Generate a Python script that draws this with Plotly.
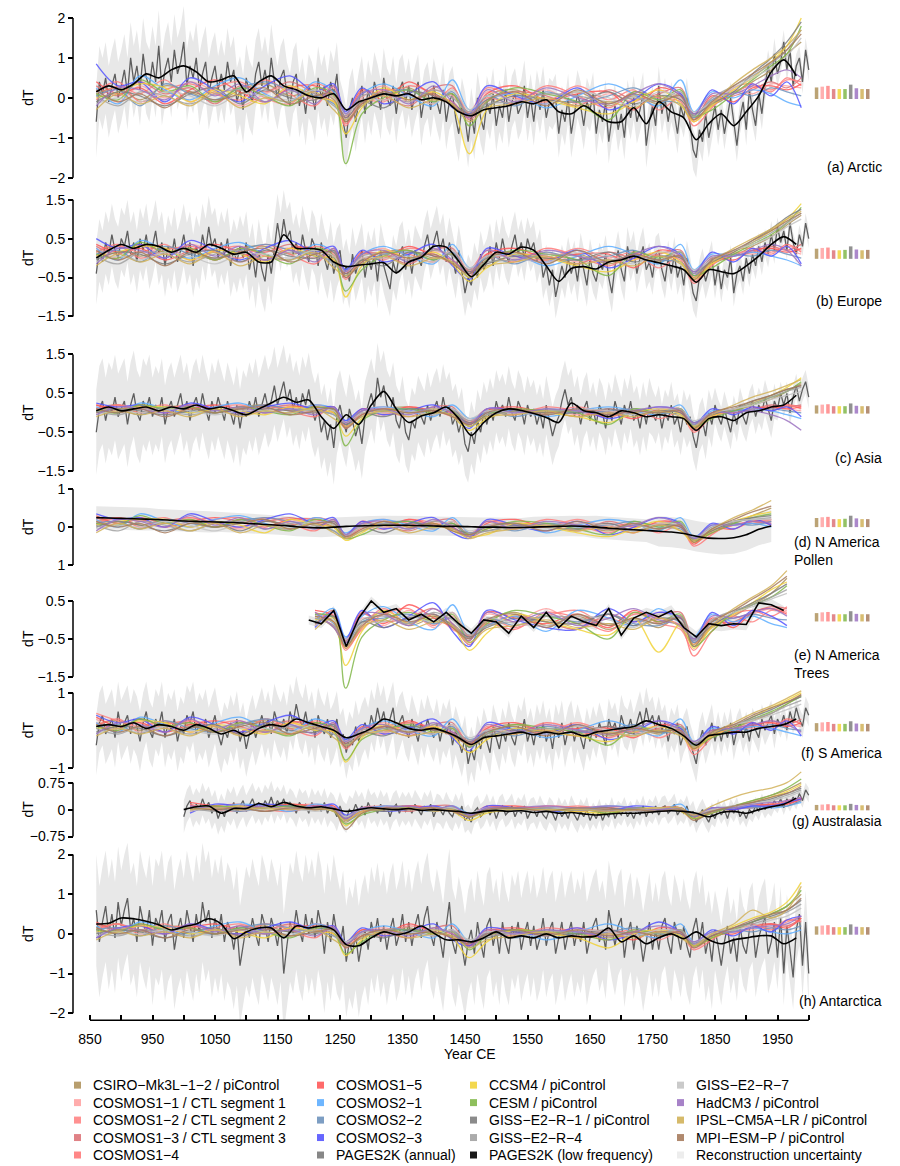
import plotly.graph_objects as go

# ======================= DATA =======================
ANNUAL_YEARS = list(range(860, 2001, 5))    # PAGES2K annual series, shown every 5 yr
LF_YEARS = list(range(860, 2001, 20))       # PAGES2K low-frequency series
MODEL_YEARS = [860, 895, 930, 970, 1010, 1050, 1090, 1130, 1170, 1210, 1240,
               1259, 1285, 1320, 1360, 1400, 1430, 1457, 1485, 1530, 1580, 1630,
               1680, 1720, 1760, 1795, 1816, 1845, 1880, 1910, 1940, 1965, 1988]
UNC_CENTURY_START = 850   # uncertainty half-widths are given per century from 850

MODEL_NAMES = ["CSIRO−Mk3L−1−2 / piControl", "COSMOS1−1 / CTL segment 1",
               "COSMOS1−2 / CTL segment 2", "COSMOS1−3 / CTL segment 3", "COSMOS1−4",
               "COSMOS1−5", "COSMOS2−1", "COSMOS2−2", "COSMOS2−3", "CCSM4 / piControl",
               "CESM / piControl", "GISS−E2−R−1 / piControl", "GISS−E2−R−4", "GISS−E2−R−7",
               "HadCM3 / piControl", "IPSL−CM5A−LR / piControl", "MPI−ESM−P / piControl"]
CONTROL_RUNS = [0, 1, 2, 3, 9, 10, 11, 14, 15, 16]   # models with control-run bars
PANEL_LABELS = ["(a) Arctic", "(b) Europe", "(c) Asia", "(d) N America<br>Pollen",
                "(e) N America<br>Trees", "(f) S America", "(g) Australasia", "(h) Antarctica"]
X_TICKS = list(range(850, 2001, 50))
X_TICK_LABELS = [str(v) if (v - 850) % 100 == 0 and v < 2000 else "" for v in X_TICKS]

N = None
# ---------- (a) Arctic ----------
ARCTIC_ANNUAL = [
    -0.6, 0.4, 0.1, 0.5, -0.1, 0.3, 0.6, 0.0, 0.3, 0.7, 0.1, 1.0, 0.4, 0.8, 0.2, 1.1, 0.5, 0.3, 0.9, 0.4,
    1.3, 0.2, 0.7, 1.0, 0.4, 1.2, 0.6, 0.9, 1.4, 0.3, 0.8, 0.5, 1.0, 0.2, 0.6, 0.9, 0.1, 0.5, 0.8, 0.2,
    0.6, 0.2, 0.9, 0.4, 0.7, -0.1, 0.2, -0.3, 0.5, 0.1, -0.1, 0.6, 0.9, 0.3, 0.7, 0.2, 1.0, 0.4, 0.0, 0.5,
    0.7, 0.1, -0.2, 0.4, 0.6, -0.2, 0.2, -0.4, 0.3, 0.1, -0.3, 0.5, 0.0, 0.3, -0.2, 0.4, 0.1, 0.6, -0.3, -0.6,
    -1.0, -0.3, 0.0, -0.6, -0.1, 0.3, -0.4, 0.2, -0.2, 0.4, 0.1, -0.3, 0.5, 0.0, -0.2, 0.3, -0.4, 0.2, 0.4, -0.1,
    0.3, -0.3, 0.1, 0.4, -0.5, 0.0, 0.2, -0.3, 0.3, -0.1, -0.4, 0.2, -0.6, -0.1, 0.1, -0.5, -0.9, -0.2, -0.5, -1.1,
    -0.4, -0.9, 0.0, -0.5, -0.8, -0.1, -0.4, 0.1, -0.7, -0.2, -0.5, 0.2, -0.6, -0.1, 0.1, -0.4, -0.2, 0.3, -0.5, 0.0,
    -0.6, 0.1, -0.3, 0.2, -0.5, -0.1, -0.2, 0.0, -0.9, -0.3, -0.6, 0.0, -0.9, -0.4, 0.1, -0.2, -0.7, -0.1, -0.3, 0.1,
    -0.9, -0.3, -0.6, -0.1, -1.1, -0.5, -0.2, -0.8, -0.4, -1.0, -0.1, -0.5, 0.0, -0.6, -0.3, 0.1, -1.2, -0.6, -0.2, -0.7,
    0.3, -0.4, 0.0, -0.6, -0.1, -0.4, -0.9, -0.2, -0.5, 0.0, -0.7, -1.3, -1.5, -0.8, -1.1, -0.4, -1.0, -0.6, -0.2, -0.8,
    -0.3, -0.9, -0.4, 0.0, -0.6, -1.2, -0.5, -0.1, -0.8, 0.2, -0.3, -0.7, 0.1, -0.4, 0.3, 0.8, 0.4, 1.1, 0.6, 0.9,
    1.4, 0.7, 1.2, 0.3, 0.8, 1.0, 0.4, 1.2, 0.7]
ARCTIC_LF = [
    0.15, 0.3, 0.2, 0.35, 0.6, 0.5, 0.7, 0.8, 0.65, 0.4,
    0.45, 0.55, 0.15, 0.4, 0.55, 0.3, 0.2, 0.05, 0.0, 0.1,
    -0.3, -0.1, 0.0, 0.1, 0.05, 0.1, -0.05, 0.0, -0.1, -0.35,
    -0.45, -0.3, -0.25, -0.2, -0.1, -0.15, -0.05, -0.35, -0.4, -0.2,
    -0.4, -0.6, -0.6, -0.25, -0.65, -0.1, -0.35, -0.5, -1.05, -0.65,
    -0.4, -0.7, -0.35, 0.05, 0.65, 0.95, 0.55, N]
ARCTIC_UNC = [0.9, 0.9, 0.85, 0.8, 0.75, 0.7, 0.65, 0.6, 0.55, 0.5, 0.4, 0.3]
ARCTIC_MODELS = [  # hundredths of a degree, one row per model
    [10, 25, -5, 30, 15, -10, 20, 35, 5, 20, -5, -60, -10, 15, 25, -5, 10, -45, 5, 20, -10, 15, -20, 5, -15, 10, -50, -20, 10, 40, 70, 110, 140],
    [20, -10, 30, 0, 40, 15, -20, 10, 30, -5, 25, -55, 0, 30, -10, 20, 5, -40, 15, -5, 20, -15, 10, -10, 20, -5, -45, 0, 20, 10, 35, 30, 25],
    [-5, 30, 10, 45, -10, 25, 40, 0, -15, 35, 10, -70, -5, -10, 30, 10, -20, -35, 25, 0, -10, 30, -5, 20, -30, 0, -60, -15, 15, 30, 20, 45, 40],
    [30, 5, 40, 10, 25, -15, 30, 15, 40, 10, -10, -50, 15, 5, -20, 25, 30, -55, -10, 15, 5, -20, 20, -5, 10, 25, -40, -10, 5, 20, 40, 25, 50],
    [15, 40, -10, 20, 35, 10, -5, 45, 10, -20, 30, -65, -15, 20, 10, -15, 25, -40, 0, -15, 30, 5, -25, 15, 0, -10, -70, -25, 25, 35, 15, 50, 30],
    [40, 10, 25, -15, 20, 45, 15, -10, 25, 30, 0, -45, 20, -5, 40, 5, -10, -50, 10, 30, -5, 10, 15, -30, 25, 5, -55, 5, -10, 25, 30, 20, 35],
    [25, -15, 55, 20, -5, 30, 50, 10, -10, 40, 15, -40, 10, 35, 5, -20, 45, -30, -5, 10, -25, 5, 35, 10, -20, 45, -35, 15, 0, 20, 10, -10, -20],
    [5, 20, -20, 35, 10, -5, 25, 40, 20, 5, -15, -55, -20, 10, 20, -10, 15, -45, 5, -20, 15, -10, 5, 25, -5, -15, -50, -5, 15, 5, 25, 15, 5],
    [85, 30, 40, -10, 50, 20, -10, 30, 55, 15, 35, -35, 25, -15, 10, 40, -25, -40, 30, 5, -15, 25, -30, -5, 35, 10, -45, 20, -15, 35, 5, 40, -25],
    [0, 15, 35, 25, -10, 20, 5, -15, 30, 0, -10, -90, -25, 25, -5, 15, -20, -140, -30, 10, -5, -25, -40, -10, 20, -15, -60, -20, 20, 50, 90, 130, 200],
    [10, -5, 45, 15, 30, -10, 25, 5, -20, 25, 5, -165, -40, 0, 20, -10, 10, -70, -10, 25, 10, -10, -55, 15, -5, 20, -45, -30, 10, 45, 80, 110, 180],
    [-10, 15, 5, -20, 10, 25, -15, 20, 0, -5, 20, -50, -10, -25, 15, 5, -15, -40, -20, 5, -5, -10, 15, -15, 5, -5, -40, -15, 15, 60, 100, 140, 190],
    [5, -20, 15, 5, -15, 10, 20, -10, 15, 10, -20, -45, 5, 10, -10, 20, 0, -35, -15, -10, 10, 5, -10, 0, -10, 15, -45, 0, 30, 55, 85, 120, 170],
    [-15, 0, -10, 15, 5, -20, 10, 5, -5, 20, 0, -40, -5, -5, 5, -15, 20, -30, 5, -5, -15, 15, 0, -20, 15, 0, -35, -10, 25, 50, 75, 105, 150],
    [-20, 25, 20, -5, 40, 5, 35, -10, 20, -15, 30, -40, 10, 20, -15, 30, -10, -50, 20, -10, 25, 0, -15, 10, 35, 5, -40, 10, 10, 30, 55, 70, 50],
    [-30, 10, -15, 5, -20, 15, -25, 0, -10, 15, -30, -55, -20, 5, -25, -5, -15, -60, -25, -15, 0, -20, -10, -25, 5, -20, -55, -15, 35, 70, 100, 130, 170],
    [20, -10, 10, -25, 15, -5, 10, 25, -15, 5, 10, -60, -15, 15, -5, 10, -20, -45, -5, 15, -20, 20, -15, 10, -10, 5, -55, -10, 30, 60, 90, 120, 160]]
ARCTIC_BAR_LO = [-0.03] * 10
ARCTIC_BAR_HI = [0.26, 0.28, 0.30, 0.22, 0.22, 0.22, 0.33, 0.24, 0.22, 0.22]

# ---------- (b) Europe ----------
EUROPE_ANNUAL = [
    -0.4, 0.2, -0.1, 0.4, 0.1, 0.6, 0.2, 0.0, 0.5, 0.3, 0.7, 0.1, 0.4, -0.1, 0.5, 0.2, 0.6, 0.0, 0.3, 0.7,
    0.1, 0.4, -0.2, 0.3, 0.0, 0.5, -0.1, 0.2, 0.6, 0.1, 0.4, -0.2, 0.3, 0.0, 0.6, 0.2, 0.8, 0.3, 0.5, 0.0,
    0.4, 0.1, 0.5, -0.2, 0.2, -0.1, 0.3, 0.0, 0.4, -0.3, 0.1, -0.5, 0.2, -0.3, -0.6, 0.1, -0.4, 0.3, 0.9, 0.4,
    1.0, 0.5, 0.7, 0.1, 0.4, 0.0, 0.6, 0.2, -0.1, 0.5, 0.3, -0.2, 0.4, 0.0, -0.3, 0.2, -0.4, 0.0, 0.2, -0.5,
    -0.2, -0.6, 0.1, -0.4, -0.1, 0.2, -0.5, 0.0, -0.3, 0.1, -0.6, 0.2, -0.2, -0.5, -0.8, -0.1, -0.4, 0.1, 0.3, -0.3,
    0.1, -0.4, 0.2, 0.0, -0.2, 0.3, 0.6, 0.1, 0.4, 0.7, 0.2, 0.5, -0.1, 0.4, 0.0, -0.4, 0.2, -0.3, -0.9, -0.5,
    -0.7, -0.2, -0.5, 0.1, -0.3, -0.1, 0.3, -0.2, 0.4, 0.0, 0.5, 0.1, -0.1, 0.3, 0.6, 0.1, 0.4, 0.0, 0.5, 0.2,
    0.4, -0.1, 0.2, -0.5, -0.2, -0.7, -0.3, -1.0, -0.6, -0.2, -0.5, 0.0, -0.4, -0.1, -0.6, 0.1, -0.3, -0.7, 0.0, -0.4,
    -0.6, -0.1, -0.3, 0.1, -0.5, -0.9, -0.2, 0.2, -0.3, -0.6, 0.3, -0.1, 0.2, -0.4, 0.0, 0.3, -0.3, -0.1, -0.5, 0.1,
    0.2, -0.3, -0.6, 0.0, -0.4, 0.1, -0.5, -0.2, -0.7, 0.0, -0.4, -0.9, -1.1, -0.5, -0.2, -0.6, -0.3, 0.0, -0.7, -0.2,
    -0.8, -0.3, -0.5, 0.0, -0.9, -0.4, -0.2, -0.6, 0.0, -0.4, 0.1, -0.2, 0.3, -0.1, 0.4, 0.1, 0.6, 0.2, 0.8, 0.4,
    0.7, 0.2, 0.9, 0.4, 0.1, 0.6, 0.3, 0.9, 0.5]
EUROPE_LF = [
    0.0, 0.2, 0.35, 0.25, 0.35, 0.3, 0.15, 0.25, 0.15, 0.35,
    0.25, 0.1, 0.15, -0.1, -0.1, 0.6, 0.25, 0.25, 0.2, -0.1,
    -0.22, -0.18, -0.15, -0.12, -0.38, -0.1, 0.02, 0.3, 0.28, -0.08,
    -0.48, -0.17, 0.15, 0.1, 0.28, 0.2, -0.2, -0.6, -0.27, -0.22,
    -0.28, -0.1, -0.05, 0.05, -0.05, -0.12, -0.2, -0.3, -0.62, -0.3,
    -0.35, -0.4, -0.2, 0.05, 0.35, 0.55, 0.35, N]
EUROPE_UNC = [0.8, 0.8, 0.8, 0.75, 0.7, 0.65, 0.6, 0.55, 0.5, 0.45, 0.35, 0.25]
EUROPE_MODELS = [
    [15, 30, 5, 25, 20, -5, 25, 30, 10, 20, 0, -45, -5, 15, 20, 0, 10, -35, 5, 15, -5, 10, -15, 5, -10, 5, -55, -15, 5, 30, 55, 85, 110],
    [25, 0, 30, 10, 35, 15, -10, 15, 25, 0, 20, -40, 5, 25, -5, 15, 10, -30, 10, 0, 15, -10, 5, -5, 15, 0, -45, -5, 15, 10, 25, 20, 10],
    [5, 30, 15, 35, -5, 20, 30, 5, -5, 30, 10, -55, 0, -5, 25, 10, -15, -30, 20, 5, -5, 25, 0, 15, -25, 5, -60, -15, 10, 20, 15, 30, 20],
    [30, 10, 35, 15, 25, -5, 25, 15, 35, 10, -5, -35, 10, 10, -15, 20, 25, -45, -5, 10, 5, -15, 15, 0, 10, 20, -40, -10, 5, 15, 30, 20, 35],
    [15, 35, 0, 20, 30, 15, 0, 35, 10, -15, 25, -50, -10, 15, 10, -10, 20, -35, 5, -10, 25, 5, -20, 10, 5, -5, -65, -20, 20, 25, 10, 35, 15],
    [35, 15, 25, -5, 20, 35, 15, -5, 25, 25, 5, -40, 15, 0, 30, 5, -5, -40, 10, 25, 0, 10, 10, -25, 20, 5, -50, 0, -5, 20, 25, 15, 25],
    [25, -5, 45, 20, 0, 25, 40, 10, -5, 35, 15, -30, 10, 30, 5, -15, 35, -25, 0, 10, -20, 5, 30, 10, -15, 35, -30, 10, 5, 15, 5, -5, -20],
    [10, 20, -10, 30, 10, 0, 20, 35, 20, 5, -10, -45, -15, 10, 15, -5, 15, -40, 5, -15, 15, -5, 5, 20, -5, -10, -45, -5, 10, 5, 20, 10, 0],
    [50, 25, 35, 0, 45, 20, -5, 25, 45, 15, 30, -30, 20, -10, 10, 35, -20, -55, 25, 5, -10, 20, -25, 0, 30, 10, -40, 15, -10, 25, 5, 30, -15],
    [5, 15, 30, 25, -5, 20, 10, -10, 25, 5, -5, -100, -20, 20, 0, 15, -15, -60, -25, 10, 0, -20, -35, -5, 15, -10, -55, -15, 15, 40, 70, 100, 140],
    [10, 0, 40, 15, 25, -5, 25, 10, -15, 25, 5, -85, -30, 5, 20, -5, 10, -50, -5, 20, 10, -5, -45, 15, 0, 15, -45, -25, 10, 35, 60, 90, 130],
    [-5, 15, 10, -15, 10, 20, -10, 20, 5, 0, 20, -40, -5, -20, 15, 5, -10, -35, -15, 5, 0, -5, 15, -10, 5, 0, -35, -10, 15, 45, 75, 105, 125],
    [5, -15, 15, 10, -10, 10, 20, -5, 15, 10, -15, -35, 5, 10, -5, 20, 5, -30, -10, -5, 10, 5, -5, 5, -5, 15, -40, 0, 20, 40, 65, 90, 115],
    [-10, 5, -5, 15, 5, -15, 10, 10, 0, 20, 5, -35, 0, 0, 5, -10, 20, -25, 5, 0, -10, 15, 5, -15, 15, 5, -30, -5, 20, 35, 55, 80, 100],
    [-15, 25, 20, 0, 35, 5, 30, -5, 20, -10, 25, -35, 10, 20, -10, 25, -5, -40, 20, -5, 20, 5, -10, 10, 30, 5, -35, 5, 5, 20, 35, 20, -20],
    [-20, 10, -10, 10, -15, 15, -20, 5, -5, 15, -25, -45, -15, 5, -20, 0, -10, -50, -20, -10, 5, -15, -5, -20, 5, -15, -50, -10, 25, 50, 75, 100, 120],
    [20, -5, 15, -20, 15, 0, 15, 25, -10, 10, 15, -50, -10, 15, 0, 10, -15, -40, 0, 15, -15, 20, -10, 10, -5, 5, -55, -5, 20, 45, 70, 95, 115]]
EUROPE_BAR_LO = [-0.02] * 10
EUROPE_BAR_HI = [0.24, 0.26, 0.27, 0.20, 0.20, 0.21, 0.30, 0.22, 0.20, 0.21]

# ---------- (c) Asia ----------
ASIA_ANNUAL = [
    -0.5, 0.1, 0.3, -0.2, 0.2, 0.0, 0.4, -0.1, 0.1, 0.3, -0.3, 0.2, 0.5, 0.0, -0.2, 0.3, 0.1, 0.4, -0.1, 0.2,
    0.0, 0.4, -0.3, 0.1, 0.3, -0.1, 0.2, 0.5, 0.0, 0.3, -0.2, 0.2, 0.4, 0.0, 0.5, 0.1, -0.2, 0.3, 0.0, 0.4,
    0.1, -0.2, 0.3, 0.0, -0.3, 0.2, -0.4, 0.1, -0.1, 0.3, 0.0, 0.4, -0.1, 0.2, 0.5, 0.1, 0.3, 0.7, 0.2, 0.5,
    0.8, 0.3, 0.6, 0.1, 0.4, 0.0, 0.5, 0.2, 0.6, 0.1, -0.2, 0.1, -0.5, -0.2, -0.7, -0.3, -0.9, -0.1, 0.2, -0.2,
    -0.5, 0.1, -0.2, -0.6, -0.3, -0.8, -0.1, 0.2, 0.5, 0.1, 0.9, 0.4, 0.7, 0.2, 0.0, 0.4, -0.2, -0.4, 0.1, -0.5,
    -0.7, -0.2, -0.4, 0.1, -0.1, -0.3, 0.2, -0.2, 0.1, 0.3, -0.1, 0.4, 0.0, 0.2, -0.3, -0.1, -0.5, -0.2, -0.8, -1.0,
    -0.5, -0.8, -0.2, -0.5, 0.0, -0.3, 0.1, -0.2, 0.3, 0.0, 0.2, -0.1, 0.4, 0.0, -0.2, 0.3, 0.1, -0.3, 0.2, -0.1,
    0.1, -0.3, 0.0, -0.4, 0.2, -0.2, -0.6, -0.3, -0.1, 0.3, 0.6, 0.2, 0.4, -0.1, 0.2, -0.3, 0.1, 0.3, -0.2, 0.1,
    -0.3, 0.2, 0.0, -0.4, 0.1, -0.2, 0.3, 0.0, -0.3, 0.2, -0.1, 0.3, -0.2, 0.0, -0.4, 0.1, -0.3, 0.2, 0.0, -0.2,
    0.1, -0.4, 0.0, -0.2, 0.2, -0.3, -0.1, -0.5, 0.0, -0.3, -0.1, -0.6, -0.9, -0.4, -0.2, -0.6, 0.0, -0.3, 0.2, -0.1,
    -0.3, 0.1, -0.2, -0.5, 0.0, -0.3, 0.2, -0.1, -0.3, 0.1, 0.3, -0.1, 0.2, 0.0, 0.4, 0.1, -0.2, 0.3, 0.1, 0.5,
    0.2, 0.5, 0.0, 0.4, 0.7, 0.3, 0.6, 0.8, 0.4]
ASIA_LF = [
    0.05, 0.15, 0.05, 0.1, 0.15, 0.05, 0.15, 0.1, 0.2, 0.1,
    0.15, 0.05, -0.05, 0.1, 0.25, 0.4, 0.27, 0.33, -0.1, -0.4,
    -0.05, -0.3, 0.2, 0.55, 0.1, -0.25, -0.08, 0.0, 0.15, -0.15,
    -0.58, -0.25, 0.0, 0.1, 0.06, -0.02, -0.12, -0.25, 0.25, 0.05,
    0.0, -0.1, 0.05, 0.0, -0.1, -0.05, -0.1, -0.15, -0.45, -0.15,
    -0.1, -0.2, 0.0, 0.05, 0.15, 0.2, 0.45, N]
ASIA_UNC = [1.1, 1.0, 1.0, 0.95, 0.9, 0.85, 0.8, 0.75, 0.7, 0.6, 0.45, 0.3]
ASIA_MODELS = [
    [10, 20, 0, 15, 15, 0, 15, 20, 5, 15, 0, -35, -5, 10, 15, 0, 5, -30, 5, 10, 0, 5, -10, 5, -5, 5, -40, -10, 5, 20, 35, 55, 75],
    [15, 0, 20, 5, 20, 10, -5, 10, 15, 0, 15, -30, 5, 15, 0, 10, 5, -20, 5, 0, 10, -5, 5, 0, 10, 0, -35, -5, 10, 5, 15, 10, 5],
    [0, 20, 10, 20, 0, 15, 20, 5, 0, 20, 5, -40, 0, -5, 15, 5, -10, -25, 10, 5, 0, 15, 0, 10, -15, 0, -45, -10, 5, 10, 10, 20, 15],
    [20, 5, 20, 10, 15, 0, 15, 10, 20, 5, 0, -25, 5, 5, -10, 15, 15, -35, -5, 5, 5, -10, 10, 0, 5, 10, -30, -5, 5, 10, 20, 15, 20],
    [10, 20, 0, 10, 20, 10, 0, 20, 5, -10, 15, -35, -5, 10, 5, -5, 10, -25, 0, -5, 15, 5, -10, 5, 5, 0, -50, -10, 10, 15, 5, 20, 10],
    [20, 10, 15, 0, 10, 20, 10, 0, 15, 15, 5, -30, 10, 0, 15, 5, 0, -30, 5, 15, 0, 5, 5, -15, 10, 5, -40, 0, 0, 10, 15, 10, 15],
    [15, 0, 25, 10, 0, 15, 25, 5, 0, 20, 10, -20, 5, 15, 5, -10, 20, -15, 0, 5, -10, 5, 15, 5, -5, 20, -25, 5, 5, 10, 5, -5, -15],
    [5, 10, -5, 15, 5, 0, 10, 20, 10, 5, -5, -30, -10, 5, 10, -5, 10, -30, 5, -10, 10, 0, 5, 10, 0, -5, -35, -5, 5, 5, 10, 5, 0],
    [25, 15, 20, 0, 25, 10, 0, 15, 25, 10, 15, -20, 10, -5, 5, 20, -10, -40, 10, 5, -5, 10, -15, 0, 15, 5, -30, 10, -5, 15, 5, 15, -10],
    [5, 10, 15, 15, 0, 10, 5, -5, 15, 5, 0, -60, -15, 10, 0, 10, -10, -45, -15, 5, 0, -10, -25, 0, 10, -5, -40, -10, 10, 25, 45, 65, 90],
    [5, 0, 20, 10, 15, 0, 15, 5, -5, 15, 5, -85, -20, 5, 10, 0, 5, -35, -5, 10, 5, 0, -30, 10, 0, 10, -35, -15, 5, 20, 40, 55, 80],
    [0, 10, 5, -5, 5, 10, -5, 10, 5, 0, 10, -30, 0, -10, 10, 5, -5, -25, -10, 5, 0, 0, 10, -5, 5, 0, -25, -5, 10, 30, 45, 60, 70],
    [5, -5, 10, 5, -5, 5, 10, 0, 10, 5, -5, -25, 5, 5, 0, 10, 5, -20, -5, 0, 5, 5, 0, 5, 0, 10, -30, 0, 10, 25, 40, 55, 65],
    [-5, 5, 0, 10, 5, -5, 5, 5, 0, 10, 5, -25, 0, 0, 5, -5, 10, -15, 5, 0, -5, 10, 5, -5, 10, 5, -20, 0, 10, 20, 35, 45, 55],
    [-5, 15, 10, 0, 20, 5, 15, 0, 10, -5, 15, -25, 5, 10, -5, 15, 0, -30, 10, 0, 10, 5, -5, 5, 15, 5, -25, 0, 0, 5, -5, -20, -45],
    [-10, 5, -5, 5, -10, 10, -10, 5, 0, 10, -15, -35, -10, 5, -10, 0, -5, -35, -10, -5, 5, -10, 0, -10, 5, -10, -35, -5, 20, 40, 55, 70, 85],
    [10, 0, 10, -10, 10, 0, 10, 15, -5, 5, 10, -40, -5, 10, 0, 5, -10, -30, 0, 10, -5, 10, -5, 5, 0, 5, -40, 0, 15, 30, 45, 60, 70]]
ASIA_BAR_LO = [-0.02] * 10
ASIA_BAR_HI = [0.19, 0.21, 0.22, 0.17, 0.17, 0.17, 0.24, 0.18, 0.17, 0.17]

# ---------- (d) N America pollen ----------
POLLEN_LF = [
    0.25, 0.24, 0.23, 0.22, 0.21, 0.2, 0.18, 0.16, 0.15, 0.14,
    0.13, 0.12, 0.1, 0.08, 0.06, 0.04, 0.01, -0.01, -0.02, 0.0,
    0.02, 0.03, 0.04, 0.05, 0.05, 0.05, 0.04, 0.03, 0.02, 0.02,
    0.01, 0.0, 0.0, -0.01, -0.01, 0.0, 0.01, 0.02, 0.03, 0.02,
    0.0, -0.03, -0.05, -0.07, -0.09, -0.11, -0.13, -0.17, -0.24, -0.29,
    -0.3, -0.28, -0.2, -0.06, 0.03, N, N, N]
POLLEN_UNC = [0.3, 0.28, 0.26, 0.25, 0.25, 0.25, 0.25, 0.27, 0.3, 0.4, 0.42, 0.35]
POLLEN_MODELS = [
    [15, 25, 5, 20, 15, 0, 20, 20, 5, 15, 0, -25, 0, 10, 15, 5, 10, -20, 5, 10, 0, 5, -10, 5, -5, 5, -35, -15, 10, 30, 50, N, N],
    [20, 5, 25, 10, 25, 10, -5, 15, 20, 5, 15, -25, 5, 20, 0, 10, 5, -15, 5, 0, 10, -5, 10, 0, 10, 0, -30, -5, 10, 10, 20, N, N],
    [5, 25, 15, 25, 0, 20, 25, 5, -5, 25, 10, -30, 0, -5, 20, 10, -5, -20, 15, 5, 0, 20, 0, 10, -15, 5, -40, -15, 5, 15, 10, N, N],
    [25, 10, 25, 10, 20, 0, 20, 15, 25, 10, 0, -20, 10, 5, -10, 15, 20, -25, -5, 10, 5, -10, 15, 0, 10, 10, -35, -10, 5, 10, 15, N, N],
    [10, 25, 0, 15, 25, 10, 0, 25, 10, -10, 20, -30, -5, 15, 10, -5, 15, -20, 5, -5, 20, 5, -15, 10, 5, 0, -50, -20, 15, 20, 5, N, N],
    [30, 10, 20, 0, 15, 25, 15, 0, 20, 20, 5, -25, 15, 0, 20, 5, 0, -25, 10, 20, 0, 10, 5, -15, 15, 5, -45, -5, -5, 15, 20, N, N],
    [20, 0, 35, 15, 0, 20, 30, 10, -5, 25, 10, -15, 10, 20, 5, -10, 25, -15, 0, 10, -15, 5, 20, 10, -10, 25, -25, 5, 5, 10, 0, N, N],
    [10, 15, -5, 20, 10, 0, 15, 25, 15, 5, -10, -30, -10, 10, 15, -5, 10, -25, 5, -10, 10, 0, 5, 15, 0, -5, -35, -5, 10, 5, 15, N, N],
    [35, 20, 25, 0, 35, 15, 0, 20, 35, 10, 25, -20, 15, -5, 10, 25, -15, -30, 20, 5, -10, 15, -20, 0, 25, 10, -30, 10, -5, 20, 5, N, N],
    [5, 15, 20, 20, 0, 15, 5, -15, 20, 5, 0, -35, -15, 15, 0, 10, -10, -25, -20, 10, 0, -15, -25, -5, 15, -10, -40, -10, 15, 30, 40, N, N],
    [10, 5, 30, 10, 20, 0, 20, 5, -10, 20, 5, -30, -20, 5, 15, 0, 10, -20, -5, 15, 10, -5, -20, 15, 0, 15, -35, -15, 10, 25, 35, N, N],
    [0, 15, 5, -10, 10, 15, -10, 15, 5, 0, 15, -20, 0, -15, 10, 5, -5, -15, -10, 5, 0, -5, 10, -10, 5, 0, -30, -10, 15, 25, 30, N, N],
    [5, -10, 15, 5, -10, 10, 15, -5, 10, 5, -10, -25, 5, 10, -5, 15, 5, -15, -10, 0, 5, 5, -5, 5, -5, 10, -30, 0, 15, 20, 25, N, N],
    [-5, 5, 0, 15, 5, -10, 10, 5, 0, 15, 5, -20, 0, 0, 5, -5, 15, -10, 5, 0, -5, 10, 5, -10, 10, 5, -25, -5, 15, 20, 20, N, N],
    [-10, 20, 15, 0, 30, 5, 25, -5, 15, -5, 20, -20, 10, 15, -5, 20, 0, -25, 15, -5, 15, 5, -5, 5, 25, 5, -30, 5, 5, 15, 10, N, N],
    [-15, 10, -5, 10, -10, 10, -15, 5, -5, 10, -15, -30, -10, 5, -15, 0, -5, -30, -15, -5, 5, -10, 0, -15, 5, -10, -35, -5, 25, 45, 70, N, N],
    [15, 0, 10, -15, 10, 0, 10, 20, -5, 10, 10, -25, -5, 15, 0, 10, -10, -20, 0, 10, -10, 15, -5, 10, -5, 5, -40, -5, 20, 40, 55, N, N]]
POLLEN_BAR_LO = [0.0] * 10
POLLEN_BAR_HI = [0.24, 0.26, 0.27, 0.21, 0.21, 0.22, 0.30, 0.23, 0.21, 0.21]

# ---------- (e) N America trees ----------
TREES_LF = [
    N, N, N, N, N, N, N, N, N, N,
    N, N, N, N, N, N, N, 0.0, -0.1, 0.25,
    -0.7, 0.05, 0.5, 0.2, 0.3, 0.0, 0.15, -0.05, 0.2, -0.1,
    -0.35, 0.0, -0.05, -0.35, 0.1, -0.2, 0.2, -0.2, 0.1, -0.05,
    -0.15, 0.3, -0.4, 0.05, 0.2, 0.08, 0.24, -0.2, -0.45, -0.1,
    -0.15, -0.1, -0.12, 0.45, 0.4, 0.25, N, N]
TREES_UNC = [N, N, N, 0.12, 0.12, 0.12, 0.12, 0.12, 0.12, 0.15, 0.15, 0.12]
TREES_MODELS = [
    [N] * 9 + [10, -20, -70, -10, 20, -15, 5, -10, -45, -5, 20, -15, 10, -25, 5, -20, 10, -60, -20, 10, 40, 70, 110, N],
    [N] * 9 + [-10, 15, -60, 5, -15, 25, -20, 10, -50, 15, -5, 30, -10, 5, -15, 20, -5, -55, 0, -10, 15, 30, 25, N],
    [N] * 9 + [20, -5, -80, -20, 30, -10, 15, -25, -40, 5, -20, 10, 25, -15, 20, -10, -25, -80, -15, 10, -5, 25, 20, N],
    [N] * 9 + [-15, 25, -55, 15, -5, 5, 30, -10, -65, -15, 10, -5, -25, 15, -5, 10, 20, -50, -10, -5, 20, 35, 30, N],
    [N] * 9 + [5, -15, -75, -25, 15, 30, -15, 20, -45, -10, -25, 20, 5, -30, 15, 5, -15, -95, -30, 15, 25, 10, 35, N],
    [N] * 9 + [25, 10, -55, 20, -10, 40, 5, -20, -55, 20, 5, -10, 15, -20, 25, -5, 10, -65, 5, -20, 20, 30, 15, N],
    [N] * 9 + [-5, 30, -45, 10, 35, -5, -25, 40, -35, -15, 10, -30, 25, 5, -15, 30, -10, -45, 15, -5, 10, -10, -20, N],
    [N] * 9 + [15, -10, -65, -5, 5, 15, -10, 5, -50, 5, -15, 10, -5, 15, -10, -15, 5, -60, -5, 5, 15, 5, 0, N],
    [N] * 9 + [-20, 20, -50, 25, -20, 10, 45, -30, -70, 25, 0, -20, -25, 30, -5, 20, 5, -55, 20, -15, 25, 10, -15, N],
    [N] * 9 + [0, -5, -120, -30, 25, -10, 10, -15, -80, -35, 15, -5, -25, -40, 5, -85, -10, -75, -20, 15, 45, 80, 100, N],
    [N] * 9 + [15, 5, -180, -45, 0, 20, -5, 15, -60, -10, 25, 10, -10, -50, 20, -5, 15, -70, -30, 20, 40, 60, 90, N],
    [N] * 9 + [-10, 10, -60, -5, -20, 5, 15, -15, -45, -20, 5, -5, -10, 15, -15, 5, -5, -50, -15, 20, 45, 70, 95, N],
    [N] * 9 + [5, -15, -55, 0, 10, -10, 20, 0, -40, -15, -5, 10, 5, -10, 0, -10, 10, -55, 0, 25, 40, 60, 80, N],
    [N] * 9 + [-15, 0, -50, -10, -5, 10, -5, 20, -35, 5, -10, -15, 10, 0, -20, 15, 0, -45, -10, 20, 35, 55, 70, N],
    [N] * 9 + [20, -20, -60, 15, 15, -15, 30, -10, -55, 20, -5, 20, -15, 5, 30, 0, -15, -50, 10, 5, 20, 30, 10, N],
    [N] * 9 + [-25, 5, -75, -20, 0, -25, -5, -15, -60, -25, -15, 0, -20, -10, -25, 5, -20, -65, -15, 30, 60, 90, 130, N],
    [N] * 9 + [10, -5, -70, -15, 15, -5, 10, -20, -50, 0, 15, -20, 15, -15, 5, -10, 5, -70, -5, 25, 55, 85, 115, N]]
TREES_BAR_LO = [-0.04] * 10
TREES_BAR_HI = [0.18, 0.20, 0.21, 0.15, 0.15, 0.15, 0.23, 0.16, 0.15, 0.15]

# ---------- (f) S America ----------
SAM_ANNUAL = [
    -0.4, 0.2, 0.4, -0.1, 0.1, 0.3, -0.2, 0.5, 0.0, 0.2, 0.4, -0.1, 0.3, 0.1, -0.3, 0.2, 0.5, 0.0, -0.2, 0.3,
    0.1, 0.5, -0.2, 0.2, 0.0, 0.3, -0.3, 0.1, -0.1, 0.4, 0.2, 0.5, -0.1, 0.2, 0.0, 0.3, -0.2, 0.1, 0.4, -0.1,
    -0.4, 0.0, -0.2, 0.2, -0.1, 0.3, -0.3, 0.0, -0.5, -0.1, 0.2, -0.2, 0.1, 0.4, 0.0, 0.3, -0.1, 0.5, 0.2, 0.0,
    0.3, -0.1, 0.5, 0.2, 0.7, 0.3, 0.1, 0.5, 0.0, 0.3, -0.2, 0.4, 0.1, -0.1, 0.3, -0.2, 0.0, 0.3, -0.3, -0.1,
    -0.6, -0.2, -0.4, 0.1, -0.3, 0.0, 0.2, -0.1, 0.4, 0.1, 0.6, 0.2, 0.5, 0.0, 0.3, 0.6, -0.1, 0.2, 0.4, 0.0,
    -0.2, 0.3, 0.0, -0.3, 0.2, -0.1, 0.3, 0.0, -0.2, 0.2, -0.3, 0.1, -0.1, 0.2, -0.4, 0.0, -0.3, -0.6, -0.2, -0.9,
    -0.5, -0.8, -0.2, -0.5, 0.0, -0.3, -0.6, 0.1, -0.2, -0.5, 0.0, -0.3, 0.2, -0.2, -0.4, 0.1, -0.1, 0.3, -0.3, 0.0,
    -0.4, 0.1, -0.2, 0.2, -0.3, 0.0, -0.5, 0.1, -0.2, 0.2, -0.4, 0.0, 0.2, -0.3, 0.1, -0.2, -0.5, 0.0, -0.3, 0.1,
    -0.2, 0.2, -0.1, -0.4, 0.3, 0.0, 0.2, -0.2, 0.4, 0.1, 0.0, 0.3, -0.1, 0.2, 0.5, 0.1, 0.6, 0.2, 0.4, 0.0,
    0.4, 0.0, 0.2, -0.3, 0.1, -0.1, 0.2, -0.4, -0.1, 0.1, -0.3, -0.6, -0.9, -0.3, 0.0, -0.4, -0.1, 0.2, -0.3, 0.1,
    -0.3, 0.1, -0.2, 0.2, -0.4, 0.0, 0.2, -0.2, 0.1, -0.3, 0.2, 0.0, -0.2, 0.3, 0.0, 0.2, 0.4, -0.1, 0.3, 0.1,
    0.4, 0.0, 0.5, 0.2, 0.6, 0.3, 0.1, 0.6, 0.4]
SAM_LF = [
    0.1, 0.15, 0.1, 0.2, 0.05, 0.15, 0.1, 0.0, 0.15, 0.05,
    -0.1, 0.0, -0.15, 0.05, 0.15, 0.1, 0.3, 0.2, 0.1, 0.0,
    -0.2, -0.1, 0.05, 0.3, 0.2, 0.05, 0.0, 0.05, -0.05, -0.2,
    -0.38, -0.2, -0.15, -0.1, -0.05, -0.12, -0.05, -0.1, -0.05, -0.15,
    -0.05, 0.0, 0.05, 0.1, 0.25, 0.15, 0.05, -0.15, -0.4, -0.15,
    -0.1, -0.05, -0.05, 0.05, 0.1, 0.15, 0.3, N]
SAM_UNC = [0.8, 0.8, 0.75, 0.75, 0.7, 0.65, 0.6, 0.6, 0.55, 0.5, 0.4, 0.3]
SAM_MODELS = [
    [15, 25, 0, 20, 15, -5, 15, 25, 5, 15, -5, -40, -10, 10, 20, 0, 5, -35, 0, 15, -5, 10, -15, 5, -10, 5, -45, -15, 5, 25, 45, 70, 95],
    [30, 0, 25, 5, 25, 10, -10, 10, 20, 0, 15, -35, 0, 20, -5, 10, 5, -30, 5, -5, 15, -10, 5, -5, 10, -5, -40, -5, 10, 5, 20, 15, 10],
    [45, 25, 10, 25, -5, 15, 25, 0, -10, 25, 5, -50, -5, -10, 20, 5, -15, -35, 10, 0, -5, 20, -5, 10, -20, 0, -55, -15, 5, 15, 10, 25, 20],
    [20, 5, 30, 10, 20, -5, 20, 10, 25, 5, -5, -30, 5, 5, -15, 15, 20, -45, -10, 5, 0, -15, 10, -5, 5, 15, -35, -10, 0, 10, 25, 15, 30],
    [10, 30, -5, 15, 25, 10, -5, 30, 5, -15, 20, -45, -10, 10, 5, -10, 15, -35, 0, -10, 20, 0, -20, 5, 0, -5, -65, -20, 15, 20, 5, 30, 15],
    [35, 10, 20, -5, 15, 25, 10, -5, 20, 20, 0, -35, 10, -5, 25, 0, -5, -40, 5, 20, -5, 5, 5, -20, 15, 0, -50, 0, -5, 15, 20, 10, 20],
    [20, -5, 35, 15, 0, 20, 35, 5, -5, 30, 10, -25, 5, 25, 0, -15, 30, -25, -5, 5, -20, 0, 25, 5, -15, 30, -30, 5, 0, 10, 5, -5, -15],
    [10, 15, -10, 25, 5, -5, 15, 30, 15, 0, -10, -40, -15, 5, 10, -10, 10, -45, 0, -15, 10, -5, 0, 15, -5, -10, -45, -5, 5, 0, 15, 5, 0],
    [40, 20, 30, -5, 35, 15, -5, 20, 40, 10, 25, -25, 15, -10, 5, 30, -20, -55, 20, 0, -10, 15, -25, -5, 25, 5, -40, 10, -10, 20, 0, 25, -15],
    [5, 10, 25, 20, -5, 15, 5, -10, 20, 0, -5, -85, -20, 15, -5, 10, -15, -60, -25, 5, -5, -15, -30, -5, 10, -10, -50, -15, 10, 35, 60, 80, 100],
    [10, 0, 30, 10, 20, -5, 20, 5, -15, 20, 0, -80, -25, 0, 15, -5, 5, -45, -10, 15, 5, -5, -40, 10, -5, 10, -40, -20, 5, 30, 50, 70, 90],
    [-5, 10, 5, -15, 5, 15, -10, 15, 0, -5, 15, -35, -5, -15, 10, 0, -10, -30, -15, 0, -5, -5, 10, -10, 0, -5, -35, -10, 10, 35, 55, 75, 90],
    [5, -10, 10, 5, -10, 5, 15, -5, 10, 5, -10, -30, 0, 5, -5, 15, 0, -25, -10, -5, 5, 0, -5, 0, -5, 10, -35, -5, 15, 30, 45, 65, 80],
    [-10, 5, -5, 10, 0, -10, 5, 5, -5, 15, 0, -30, -5, -5, 0, -10, 15, -20, 0, -5, -10, 10, 0, -15, 10, 0, -30, -5, 15, 25, 40, 55, 70],
    [-10, 20, 15, -5, 30, 0, 25, -5, 15, -10, 20, -30, 5, 15, -10, 20, -5, -35, 15, -5, 15, 0, -10, 5, 25, 0, -30, 0, 5, 15, 25, 15, -5],
    [-15, 5, -10, 5, -15, 10, -15, 0, -10, 10, -20, -40, -15, 0, -15, -5, -10, -40, -20, -10, 0, -15, -5, -15, 0, -15, -45, -10, 20, 45, 65, 85, 105],
    [15, -5, 10, -15, 10, -5, 10, 20, -10, 5, 10, -45, -10, 10, -5, 5, -15, -35, -5, 10, -15, 15, -10, 5, -5, 0, -50, -5, 15, 40, 60, 75, 95]]
SAM_BAR_LO = [-0.03] * 10
SAM_BAR_HI = [0.19, 0.21, 0.22, 0.17, 0.17, 0.17, 0.24, 0.18, 0.17, 0.17]

# ---------- (g) Australasia ----------
AUS_ANNUAL = [
    N, N, N, N, N, N, N, N, N, N, N, N, N, N, N, N, N, N, N, N,
    N, N, N, N, N, N, N, N, -0.2, 0.1, 0.25, -0.05, 0.15, 0.0, 0.3, 0.05, 0.2, -0.1, 0.1, -0.25,
    0.0, -0.2, 0.15, 0.0, 0.2, -0.1, 0.1, 0.25, -0.05, 0.15, 0.3, 0.05, 0.2, 0.0, 0.25, 0.1, 0.35, 0.05, 0.25, 0.1,
    0.3, 0.0, 0.2, 0.1, -0.1, 0.2, 0.05, 0.15, -0.1, 0.2, 0.0, 0.15, -0.05, 0.2, -0.1, 0.1, 0.0, -0.2, 0.1, -0.15,
    -0.25, 0.0, -0.1, 0.15, -0.05, 0.1, -0.15, 0.2, 0.0, 0.1, -0.1, 0.15, -0.05, 0.1, -0.2, 0.05, 0.15, -0.1, 0.1, -0.05,
    0.1, -0.1, 0.15, 0.0, -0.15, 0.1, -0.05, 0.15, -0.2, 0.05, 0.0, -0.15, 0.1, -0.1, -0.2, 0.05, -0.15, 0.1, -0.3, -0.2,
    -0.35, -0.05, 0.05, -0.2, -0.1, 0.1, -0.15, 0.05, -0.25, 0.0, 0.1, -0.15, -0.05, 0.1, -0.2, 0.0, -0.1, 0.1, -0.25, -0.05,
    0.0, -0.2, 0.05, -0.15, -0.25, 0.0, -0.1, -0.3, 0.0, -0.2, -0.05, -0.25, 0.05, -0.15, -0.3, -0.05, -0.2, 0.0, -0.3, -0.1,
    -0.25, 0.0, -0.3, -0.1, -0.2, 0.05, -0.25, -0.05, -0.15, 0.05, -0.2, -0.05, -0.25, 0.0, -0.15, 0.1, -0.2, 0.0, -0.1, 0.1,
    -0.15, 0.05, 0.1, -0.1, 0.0, 0.15, -0.15, 0.0, -0.1, 0.1, -0.2, -0.05, -0.35, -0.15, 0.0, -0.2, -0.35, -0.1, -0.25, 0.05,
    -0.15, 0.0, -0.25, 0.05, -0.1, 0.1, -0.2, -0.05, -0.25, 0.0, -0.1, 0.1, -0.05, 0.2, 0.0, 0.15, 0.05, 0.25, 0.1, 0.3,
    0.05, 0.3, 0.15, 0.35, 0.2, 0.45, 0.25, 0.55, 0.4]
AUS_LF = [
    N, N, N, N, N, N, N, 0.0, 0.08, 0.1,
    -0.1, 0.03, 0.03, 0.17, 0.08, 0.2, 0.1, 0.05, 0.08, 0.02,
    -0.05, 0.0, 0.05, 0.02, 0.0, 0.03, -0.02, 0.0, -0.03, -0.05,
    -0.1, -0.05, -0.02, -0.05, -0.03, -0.08, -0.05, -0.1, -0.08, -0.12,
    -0.15, -0.12, -0.1, -0.1, -0.08, -0.05, -0.03, -0.05, -0.1, -0.2,
    -0.08, -0.05, -0.1, 0.0, 0.08, 0.15, 0.32, N]
AUS_UNC = [N, 0.45, 0.45, 0.4, 0.4, 0.4, 0.35, 0.35, 0.3, 0.3, 0.25, 0.2]
AUS_MODELS = [
    [N] * 4 + [5, 10, 0, 10, 15, 5, -5, -35, 0, 5, 10, 0, 5, -20, 0, 5, 0, 5, -5, 0, -5, 5, -20, -5, 10, 25, 40, 55, 75],
    [N] * 4 + [10, 0, -5, 5, 10, 15, 5, -25, 5, 10, 0, 5, 0, -15, 5, 0, 5, -5, 5, 0, 5, 0, -15, 0, 5, 10, 15, 20, 25],
    [N] * 4 + [-5, 10, 15, 0, -5, 10, 10, -30, -5, 0, 10, 5, -5, -15, 10, 5, 0, 10, 0, 5, -5, 5, -20, -5, 5, 10, 10, 20, 30],
    [N] * 4 + [10, 5, 0, 10, 5, 5, 0, -25, 5, 5, -5, 10, 10, -20, 0, 5, 5, -5, 5, 0, 5, 5, -15, 0, 5, 5, 15, 15, 35],
    [N] * 4 + [15, 0, 10, -5, 10, 0, 5, -30, -5, 10, 5, -5, 5, -15, 5, -5, 10, 5, -5, 5, 0, 0, -25, -10, 10, 15, 10, 25, 30],
    [N] * 4 + [20, 10, 5, 5, 15, 10, 10, -20, 5, 0, 10, 5, 0, -20, 5, 10, 0, 5, 5, -5, 5, 5, -20, 0, 0, 10, 15, 15, 30],
    [N] * 4 + [0, 5, 15, 10, -5, 15, 5, -20, 0, 10, 5, -5, 10, -10, 0, 5, -5, 0, 10, 5, -5, 15, -15, 5, 5, 10, 5, 10, 20],
    [N] * 4 + [5, 5, -5, 5, 10, 0, 5, -30, -10, 5, 5, 0, 5, -15, 5, -5, 5, 0, 0, 5, 0, -5, -20, -5, 5, 5, 10, 10, 25],
    [N] * 4 + [-10, 15, 10, 15, 10, 5, 15, -15, 5, -5, 0, 10, -5, -20, 10, 5, -5, 0, -5, 10, 5, 0, -15, 5, 0, 10, 10, 20, 30],
    [N] * 4 + [0, 5, 10, 0, 5, 0, 0, -45, -10, 5, 0, 5, -5, -30, -10, 0, 0, -5, -10, 0, 5, -5, -25, -5, 10, 20, 35, 50, 70],
    [N] * 4 + [5, 10, 5, 5, 10, 5, -5, -40, -15, 0, 5, 0, 5, -20, -5, 5, 0, 5, -10, 5, 0, 5, -25, -10, 10, 25, 40, 60, 85],
    [N] * 4 + [0, 0, 5, -5, 5, 5, 0, -25, 0, -5, 5, 0, 0, -15, -5, 0, 0, 0, 5, -5, 0, 0, -15, -5, 10, 20, 30, 45, 60],
    [N] * 4 + [5, -5, 0, 5, 0, 0, 5, -20, 5, 0, 0, 5, 5, -10, 0, 0, 5, 0, 0, 0, -5, 5, -15, 0, 10, 15, 25, 40, 55],
    [N] * 4 + [-5, 5, 0, 0, 5, -5, 0, -20, 0, 5, 0, 0, 5, -10, 5, -5, 0, 5, 0, -5, 5, 0, -10, 0, 10, 15, 25, 35, 50],
    [N] * 4 + [10, 5, 5, 10, 0, 10, 5, -25, 5, 5, 10, 0, 10, -15, 5, 5, 10, 5, 10, 5, 0, 5, -15, 5, 5, 15, 20, 25, 35],
    [N] * 4 + [0, 5, 0, 5, 0, 5, -5, -30, -5, 0, 5, -5, 0, -20, -5, 0, 0, 0, -5, 0, 5, 5, -15, 10, 35, 50, 60, 75, 105],
    [N] * 4 + [5, 0, 5, -5, 5, 0, 0, -55, -10, 5, 0, 5, -5, -20, 0, 5, -5, 5, 0, 0, -5, 0, -30, -5, 10, 20, 35, 45, 65]]
AUS_BAR_LO = [-0.02] * 10
AUS_BAR_HI = [0.13, 0.14, 0.15, 0.12, 0.12, 0.12, 0.16, 0.13, 0.12, 0.12]

# ---------- (h) Antarctica ----------
ANT_ANNUAL = [
    0.6, -0.2, 0.3, 0.7, 0.0, 0.5, -0.1, 0.8, 0.2, 0.6, 0.9, 0.1, 0.4, -0.2, 0.7, 0.3, 0.0, 0.6, -0.3, 0.4,
    0.2, 0.6, -0.2, 0.3, 0.5, -0.4, 0.1, 0.4, -0.1, 0.6, 0.2, -0.2, 0.5, 0.0, 0.8, 0.3, 0.6, -0.1, 0.4, 0.0,
    0.5, -0.2, 0.3, 0.1, -0.4, 0.2, -0.8, -0.3, 0.2, -0.1, 0.4, 0.0, -0.3, 0.5, 0.2, -0.2, 0.4, 0.1, -0.3, 0.3,
    -1.0, -0.3, 0.3, 0.0, 0.6, 0.1, -0.2, 0.5, 0.0, 0.4, -0.1, 0.6, 0.2, -0.5, 0.3, -0.2, 0.5, 0.0, -0.3, 0.2,
    -0.7, -0.2, -0.5, 0.0, -0.7, -0.2, 0.1, -0.4, 0.3, -0.1, 0.4, -0.2, 0.2, -0.4, 0.1, 0.4, -0.3, 0.0, 0.5, -0.2,
    0.3, -0.3, 0.2, 0.5, -0.1, 0.4, 0.7, 0.0, -0.3, 0.3, -0.1, -0.6, 0.2, 0.8, -0.2, -0.5, 0.1, -0.3, -0.8, -0.2,
    0.1, -0.5, 0.3, -0.2, -0.6, 0.2, 0.4, -0.3, 0.1, -0.5, 0.3, -0.2, -0.5, 0.2, -0.1, 0.3, -0.4, 0.0, 0.3, -0.3,
    0.2, -0.4, -0.1, 0.4, -0.3, 0.1, 0.3, -0.5, -0.1, 0.3, -0.4, 0.0, 0.3, -0.3, 0.1, -0.2, 0.3, -0.5, -0.1, 0.2,
    0.4, -0.2, 0.1, -0.4, 0.6, 0.1, -0.3, 0.2, 0.4, -0.6, 0.0, 0.3, -0.4, 0.2, -0.1, -0.7, -0.2, 0.3, -0.4, 0.1,
    -0.4, 0.2, 0.4, -0.2, -0.5, 0.3, 0.0, -0.4, 0.2, -0.3, -0.6, 0.1, 0.4, -0.2, 0.3, -0.5, -0.1, -0.7, 0.1, -0.3,
    -0.8, -0.2, 0.2, -0.5, -0.1, -0.7, 0.2, -0.3, -0.5, 0.1, 0.3, -0.6, -0.1, 0.2, 0.4, -0.5, -0.2, 0.3, -0.6, 0.4,
    -1.0, 0.2, -0.4, -1.1, 0.1, 0.5, -0.8, 0.3, -1.0]
ANT_LF = [
    0.25, 0.27, 0.4, 0.38, 0.32, 0.23, 0.1, 0.18, 0.25, 0.38,
    0.25, -0.12, 0.05, 0.15, 0.15, -0.1, 0.2, 0.15, 0.2, 0.1,
    -0.27, -0.3, -0.1, 0.05, -0.02, 0.05, 0.2, 0.02, -0.15, -0.15,
    -0.2, -0.1, 0.05, -0.1, -0.05, -0.1, 0.0, -0.1, -0.05, -0.08,
    -0.05, 0.15, -0.2, -0.05, -0.25, -0.1, 0.0, -0.12, 0.05, -0.15,
    -0.25, -0.15, -0.1, -0.05, -0.05, -0.25, -0.1, N]
ANT_UNC = [1.4, 1.5, 1.5, 1.5, 1.4, 1.35, 1.3, 1.3, 1.25, 1.2, 1.0, 0.8]
ANT_MODELS = [
    [15, 25, 5, 20, 15, 0, 15, 20, 5, 15, 0, -30, -5, 10, 15, 0, 5, -30, 0, 10, 0, 5, -10, 5, -5, 5, -30, -10, 10, 30, 50, 70, 100],
    [25, 5, 20, 5, 20, 10, -5, 10, 20, 5, 15, -25, 5, 15, 0, 10, 5, -20, 5, 0, 10, -5, 5, 0, 10, 0, -25, 0, 10, 10, 25, 20, 35],
    [10, 25, 10, 25, 0, 15, 25, 5, -5, 25, 10, -35, 0, -5, 20, 5, -10, -25, 10, 5, 0, 15, 0, 10, -15, 5, -35, -10, 10, 20, 15, 30, 45],
    [25, 10, 25, 10, 15, 0, 20, 10, 25, 10, 0, -20, 10, 5, -10, 15, 20, -30, -5, 10, 5, -10, 10, 0, 5, 10, -25, -5, 5, 15, 25, 20, 40],
    [10, 25, 0, 15, 20, 10, 0, 25, 10, -10, 20, -30, -5, 10, 10, -5, 10, -25, 0, -5, 15, 5, -15, 5, 5, 0, -40, -15, 15, 25, 10, 35, 30],
    [30, 10, 20, 0, 15, 25, 10, 0, 15, 20, 5, -25, 10, 0, 25, 5, 0, -30, 5, 15, 0, 10, 5, -15, 15, 5, -30, 0, 0, 20, 25, 15, 40],
    [20, 0, 30, 10, 0, 20, 30, 5, -5, 25, 10, -20, 5, 20, 5, -10, 25, -20, 0, 10, -15, 5, 25, 5, -10, 25, -20, 5, 5, 15, 5, 0, 10],
    [10, 15, -5, 20, 5, 0, 15, 25, 15, 5, -5, -30, -10, 10, 10, -5, 10, -35, 5, -10, 10, 0, 5, 15, 0, -5, -30, -5, 10, 5, 15, 10, 20],
    [-10, 15, 20, 0, 25, 10, 0, 15, 30, 10, 20, -20, 15, -5, 5, 25, -15, -30, 15, 5, -5, 15, -15, 0, 30, 5, -25, 10, -5, 20, 5, 35, 45],
    [5, 10, 20, 15, 0, 10, 5, -10, 15, 5, 0, -55, -15, 10, 0, 10, -10, -60, -20, 10, 0, -10, -35, 0, 10, -5, -30, -10, 20, 40, 55, 80, 130],
    [10, 5, 25, 10, 15, 0, 15, 5, -10, 15, 5, -50, -20, 5, 10, 0, 5, -40, -5, 10, 5, 0, -15, 10, 0, 10, -30, -10, 10, 30, 50, 70, 110],
    [0, 10, 5, -10, 5, 15, -5, 10, 5, 0, 15, -25, 0, -10, 10, 5, -5, -20, -10, 5, 0, 0, 10, -5, 5, 0, -20, -5, 15, 30, 45, 60, 85],
    [5, -5, 10, 5, -5, 5, 10, 0, 10, 5, -5, -20, 5, 5, 0, 10, 5, -15, -5, 0, 5, 5, 0, 5, 0, 10, -25, 0, 15, 25, 40, 55, 75],
    [-5, 5, 0, 10, 5, -5, 10, 5, 0, 10, 5, -20, 0, 0, 5, -5, 10, -15, 5, 0, -5, 10, 5, -5, 10, 5, -20, 0, 10, 20, 35, 45, 65],
    [-10, 15, 10, 0, 25, 5, 20, 0, 10, -5, 15, -25, 5, 10, -5, 15, 0, -25, 10, 0, 10, 5, -5, 5, 20, 5, -20, 5, 5, 15, 20, 25, 45],
    [-15, 5, -5, 5, -10, 10, -10, 5, -5, 10, -15, -30, -10, 5, -10, 0, -5, -35, -15, -5, 5, -10, 0, -10, 5, -10, -30, 0, 25, 60, 40, 60, 120],
    [15, 0, 10, -10, 10, 0, 10, 15, -5, 5, 10, -35, -5, 10, 0, 5, -10, -25, 0, 10, -5, 10, -5, 5, -5, 5, -35, -5, 15, 35, 50, 60, 90]]
ANT_BAR_LO = [-0.02] * 10
ANT_BAR_HI = [0.19, 0.21, 0.22, 0.17, 0.17, 0.17, 0.24, 0.18, 0.17, 0.17]

PANEL_DATA = [
    dict(annual=ARCTIC_ANNUAL, lf=ARCTIC_LF, unc=ARCTIC_UNC, models=ARCTIC_MODELS, lo=ARCTIC_BAR_LO, hi=ARCTIC_BAR_HI),
    dict(annual=EUROPE_ANNUAL, lf=EUROPE_LF, unc=EUROPE_UNC, models=EUROPE_MODELS, lo=EUROPE_BAR_LO, hi=EUROPE_BAR_HI),
    dict(annual=ASIA_ANNUAL, lf=ASIA_LF, unc=ASIA_UNC, models=ASIA_MODELS, lo=ASIA_BAR_LO, hi=ASIA_BAR_HI),
    dict(annual=None, lf=POLLEN_LF, unc=POLLEN_UNC, models=POLLEN_MODELS, lo=POLLEN_BAR_LO, hi=POLLEN_BAR_HI),
    dict(annual=None, lf=TREES_LF, unc=TREES_UNC, models=TREES_MODELS, lo=TREES_BAR_LO, hi=TREES_BAR_HI),
    dict(annual=SAM_ANNUAL, lf=SAM_LF, unc=SAM_UNC, models=SAM_MODELS, lo=SAM_BAR_LO, hi=SAM_BAR_HI),
    dict(annual=AUS_ANNUAL, lf=AUS_LF, unc=AUS_UNC, models=AUS_MODELS, lo=AUS_BAR_LO, hi=AUS_BAR_HI),
    dict(annual=ANT_ANNUAL, lf=ANT_LF, unc=ANT_UNC, models=ANT_MODELS, lo=ANT_BAR_LO, hi=ANT_BAR_HI),
]

# ======================= STYLE / LAYOUT =======================
W, H = 900, 1166
FONT = "Liberation Sans, Arial, Helvetica, sans-serif"
FS = 14
PX_850 = 90.0            # x pixel of year 850
PX_PER_YEAR = 0.625
X_RANGE = [850 - PX_850 / PX_PER_YEAR, 850 + (W - PX_850) / PX_PER_YEAR]
Y_AXIS_PX = 73.0
BAR_X0, BAR_DX = 2012.5, 9.1

MODEL_COLORS = ["#b0945e", "#ffa3a3", "#ff8585", "#dd7479", "#ff7a7a", "#ff5a5a",
                "#5eaeff", "#6f93bd", "#5555ff", "#f2d43c", "#82b84a", "#7e7e7e",
                "#a2a2a2", "#c4c4c4", "#9d74c2", "#d2b25a", "#a77c5e"]
ANNUAL_COLOR = "#5e5e5e"
LEGEND_ANNUAL_COLOR = "#7a7a7a"
BAND_COLOR = "#e8e8e8"

# geometry per panel: (top tick value, px), (bottom tick value, px), clip px range
PANELS = [
    dict(top=(2, 18), bot=(-2, 178), clip=(0, 192), ticks=[2, 1, 0, -1, -2],
         ticktext=["2", "1", "0", "−1", "−2"], label_px=(884, 167), align="right", spline=True),
    dict(top=(1.5, 200), bot=(-1.5, 317), clip=(184, 342), ticks=[1.5, 0.5, -0.5, -1.5],
         ticktext=["1.5", "0.5", "−0.5", "−1.5"], label_px=(884, 302), align="right", spline=True),
    dict(top=(1.5, 355), bot=(-1.5, 472), clip=(330, 486), ticks=[1.5, 0.5, -0.5, -1.5],
         ticktext=["1.5", "0.5", "−0.5", "−1.5"], label_px=(884, 459), align="right", spline=True),
    dict(top=(1, 490), bot=(-1, 566), clip=(480, 572), ticks=[1, 0, -1],
         ticktext=["1", "0", "1"], label_px=(792, 552), align="left", spline=True),
    dict(top=(0.5, 602), bot=(-1.5, 678), clip=(568, 692), ticks=[0.5, -0.5, -1.5],
         ticktext=["0.5", "−0.5", "−1.5"], label_px=(792, 665), align="left", spline=False),
    dict(top=(1, 694), bot=(-1, 769), clip=(676, 790), ticks=[1, 0, -1],
         ticktext=["1", "0", "−1"], label_px=(884, 754), align="right", spline=True),
    dict(top=(0.75, 784), bot=(-0.75, 838), clip=(766, 852), ticks=[0.75, 0, -0.75],
         ticktext=["0.75", "0", "−0.75"], label_px=(884, 822), align="right", spline=True),
    dict(top=(2, 856), bot=(-2, 1015), clip=(840, 1022), ticks=[2, 1, 0, -1, -2],
         ticktext=["2", "1", "0", "−1", "−2"], label_px=(884, 1003), align="right", spline=True),
]


def century_value(unc, year):
    i = (year - UNC_CENTURY_START) // 100
    return unc[i] if 0 <= i < len(unc) else None


def check(name, seq, n):
    if len(seq) != n:
        raise ValueError(f"{name}: expected {n} values, got {len(seq)}")


fig = go.Figure()
layout = dict(width=W, height=H, margin=dict(l=0, r=0, t=0, b=0), showlegend=False,
              paper_bgcolor="white", plot_bgcolor="rgba(0,0,0,0)", hovermode=False,
              font=dict(family=FONT, size=FS, color="black"))
shapes, annotations = [], []

for i, (p, d) in enumerate(zip(PANELS, PANEL_DATA)):
    n = i + 1
    xa = "x" if n == 1 else f"x{n}"
    ya = "y" if n == 1 else f"y{n}"
    (tv, tp), (bv, bp) = p["top"], p["bot"]
    scale = (bp - tp) / (tv - bv)
    c0, c1 = p["clip"]
    yrange = [bv - (c1 - bp) / scale, tv + (tp - c0) / scale]
    layout["yaxis" if n == 1 else f"yaxis{n}"] = dict(
        domain=[1 - c1 / H, 1 - c0 / H], range=yrange, anchor="free", position=Y_AXIS_PX / W,
        showline=False, showgrid=False, zeroline=False, ticks="outside", ticklen=5, tickwidth=1.5,
        tickcolor="black", tickvals=p["ticks"], ticktext=p["ticktext"],
        tickfont=dict(size=FS, family=FONT, color="black"))
    xcfg = dict(domain=[0, 1], range=X_RANGE, anchor=ya, showgrid=False, zeroline=False,
                showline=False)
    if n == len(PANELS):
        xcfg.update(visible=True, ticks="inside", ticklen=5, tickwidth=1.5, tickcolor="black",
                    tickvals=X_TICKS, ticktext=X_TICK_LABELS, ticklabelstandoff=9,
                    tickfont=dict(size=FS, family=FONT, color="black"))
        shapes.append(dict(type="line", xref=xa, yref="paper", x0=850, x1=2000,
                           y0=1 - c1 / H, y1=1 - c1 / H, line=dict(color="black", width=1.5)))
    else:
        xcfg.update(visible=False)
    layout["xaxis" if n == 1 else f"xaxis{n}"] = xcfg

    # y-axis bracket line
    shapes.append(dict(type="line", xref="paper", yref=ya, x0=Y_AXIS_PX / W, x1=Y_AXIS_PX / W,
                       y0=tv, y1=bv, line=dict(color="black", width=1.5)))

    # uncertainty band
    check(f"panel {n} lf", d["lf"], len(LF_YEARS))
    if d["annual"] is not None:
        check(f"panel {n} annual", d["annual"], len(ANNUAL_YEARS))
        cx, cy = ANNUAL_YEARS, d["annual"]
    else:
        cx, cy = LF_YEARS, d["lf"]
    pts = [(x, c, century_value(d["unc"], x)) for x, c in zip(cx, cy) if c is not None]
    pts = [q for q in pts if q[2] is not None]
    bx = [q[0] for q in pts] + [q[0] for q in pts[::-1]]
    by = [q[1] + q[2] for q in pts] + [q[1] - q[2] for q in pts[::-1]]
    fig.add_trace(go.Scatter(x=bx, y=by, mode="lines", fill="toself", fillcolor=BAND_COLOR,
                             line=dict(width=0, color=BAND_COLOR), xaxis=xa, yaxis=ya,
                             hoverinfo="skip"))
    # annual reconstruction
    if d["annual"] is not None:
        fig.add_trace(go.Scatter(x=ANNUAL_YEARS, y=d["annual"], mode="lines",
                                 line=dict(color=ANNUAL_COLOR, width=1.3), xaxis=xa, yaxis=ya,
                                 hoverinfo="skip"))
    # model simulations
    for m, row in enumerate(d["models"]):
        check(f"panel {n} model {m}", row, len(MODEL_YEARS))
        fig.add_trace(go.Scatter(
            x=MODEL_YEARS, y=[v / 100 if v is not None else None for v in row], mode="lines",
            line=dict(color=MODEL_COLORS[m], width=1.3, shape="spline", smoothing=1.0),
            opacity=0.85, xaxis=xa, yaxis=ya, hoverinfo="skip"))
    # low-frequency reconstruction
    fig.add_trace(go.Scatter(
        x=LF_YEARS, y=d["lf"], mode="lines",
        line=dict(color="black", width=1.6, shape="spline" if p["spline"] else "linear",
                  smoothing=0.8),
        xaxis=xa, yaxis=ya, hoverinfo="skip"))
    # control-run bars
    for k, m in enumerate(CONTROL_RUNS):
        bxk = BAR_X0 + k * BAR_DX
        fig.add_trace(go.Scatter(x=[bxk, bxk], y=[d["lo"][k], d["hi"][k]], mode="lines",
                                 line=dict(color=MODEL_COLORS[m], width=3.5), opacity=0.85,
                                 xaxis=xa, yaxis=ya, hoverinfo="skip"))

    # dT label and panel label
    annotations.append(dict(text="dT", xref="paper", yref="paper", x=28 / W,
                            y=1 - ((tp + bp) / 2) / H, textangle=-90, showarrow=False,
                            font=dict(size=FS, family=FONT), xanchor="center", yanchor="middle"))
    lx, ly = p["label_px"]
    annotations.append(dict(text=PANEL_LABELS[i], xref="paper", yref="paper", x=lx / W,
                            y=1 - ly / H, showarrow=False, align="left",
                            xanchor="right" if p["align"] == "right" else "left",
                            yanchor="middle", font=dict(size=FS, family=FONT)))

annotations.append(dict(text="Year CE", xref="paper", yref="paper", x=470 / W, y=1 - 1056 / H,
                        showarrow=False, font=dict(size=FS, family=FONT),
                        xanchor="center", yanchor="middle"))

# legend (4 columns, column-major)
LEGEND_ITEMS = [(MODEL_NAMES[k], MODEL_COLORS[k]) for k in range(9)]
LEGEND_ITEMS.insert(9, ("PAGES2K (annual)", LEGEND_ANNUAL_COLOR))
LEGEND_ITEMS += [(MODEL_NAMES[k], MODEL_COLORS[k]) for k in (9, 10, 11, 12)]
LEGEND_ITEMS += [("PAGES2K (low frequency)", "#000000")]
LEGEND_ITEMS += [(MODEL_NAMES[k], MODEL_COLORS[k]) for k in (13, 14, 15, 16)]
LEGEND_ITEMS += [("Reconstruction uncertainty", "#ebebeb")]
COL_SWATCH_PX = [74, 317, 470, 677]
ROW_PX = [1087, 1104.5, 1122, 1139.5, 1157]
for j, (name, col) in enumerate(LEGEND_ITEMS):
    c, r = divmod(j, 5)
    sx, sy = COL_SWATCH_PX[c], ROW_PX[r]
    shapes.append(dict(type="rect", xref="paper", yref="paper", x0=sx / W, x1=(sx + 7) / W,
                       y0=1 - (sy + 3.5) / H, y1=1 - (sy - 3.5) / H,
                       fillcolor=col, line=dict(width=0), opacity=0.9))
    annotations.append(dict(text=name, xref="paper", yref="paper", x=(sx + 17) / W,
                            y=1 - sy / H, showarrow=False, xanchor="left", yanchor="middle",
                            font=dict(size=FS, family=FONT)))

layout["shapes"] = shapes
layout["annotations"] = annotations
fig.update_layout(**layout)
fig.write_html("out.html")
